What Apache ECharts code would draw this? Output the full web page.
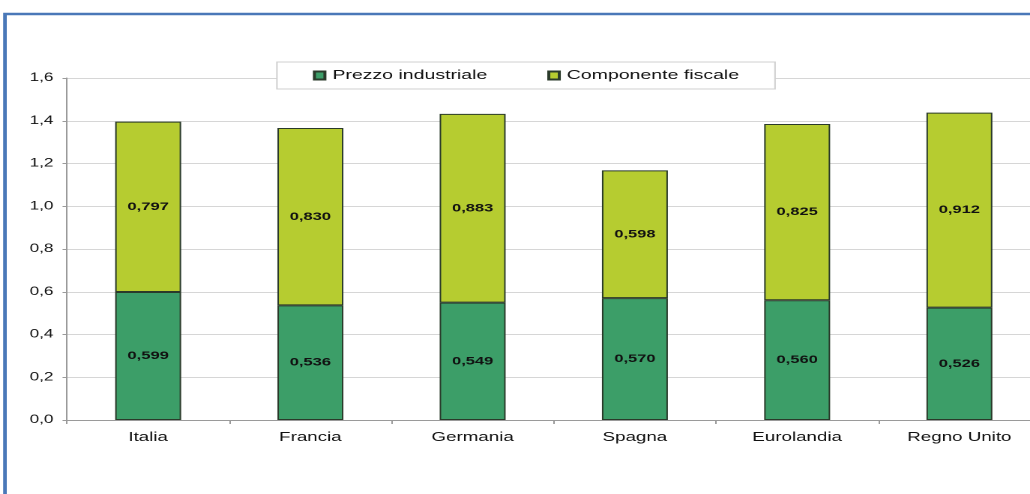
<!DOCTYPE html>
<html><head><meta charset="utf-8">
<script src="https://cdn.jsdelivr.net/npm/echarts@6/dist/echarts.min.js"></script>
<style>html,body{margin:0;padding:0;background:#fff;overflow:hidden}
#wrap{position:absolute;left:0;top:0;width:1030px;height:494px;overflow:hidden}
#c{width:720px;height:494px;transform:scaleX(1.4993);transform-origin:0 0}</style>
</head><body><div id="wrap"><div id="c"></div></div>
<script>
const categories = ['Italia','Francia','Germania','Spagna','Eurolandia','Regno Unito'];
const prezzoIndustriale = [0.599, 0.536, 0.549, 0.570, 0.560, 0.526];
const componenteFiscale = [0.797, 0.830, 0.883, 0.598, 0.825, 0.912];
const seriesNames = ['Prezzo industriale','Componente fiscale'];

const fmt = v => v.toFixed(3).replace('.', ',');
const chart = echarts.init(document.getElementById('c'), null, {renderer:'canvas', devicePixelRatio:2});
const font = 'Liberation Sans, Arial, sans-serif';
const lbl = {show:true, position:'inside', color:'#111', fontWeight:'bold', fontSize:11, fontFamily:font,
  formatter:p=>fmt(p.value)};
chart.setOption({
  animation:false,
  graphic:[{type:'rect', shape:{x:3.3, y:14, width:800, height:600}, style:{fill:'none', stroke:'#4a78b8', lineWidth:2.4}, z:-10}],
  legend:{top:62, left:184.7, itemGap:40, padding:[7,24,7,24], backgroundColor:'#fff', borderColor:'#d0d0d0', borderWidth:1,
    icon:'rect', itemWidth:7, itemHeight:8, textStyle:{fontSize:13, fontFamily:font, color:'#111'}, data:seriesNames, z:10},
  grid:{left:44.7, top:78, width:649.3, height:342, show:false},
  xAxis:{type:'category', data:categories,
    axisLine:{lineStyle:{color:'#9a9a9a'}}, axisTick:{show:true, length:4, lineStyle:{color:'#9a9a9a'}},
    splitLine:{show:false},
    axisLabel:{fontSize:12.5, fontFamily:font, color:'#111', margin:11}},
  yAxis:{type:'value', min:0, max:1.6, interval:0.2,
    axisLine:{show:true, lineStyle:{color:'#9a9a9a'}}, axisTick:{show:true, length:3, lineStyle:{color:'#9a9a9a'}},
    splitLine:{lineStyle:{color:'#d6d6d6'}},
    axisLabel:{fontSize:11.5, fontFamily:font, color:'#111', margin:9, formatter:v=>v.toFixed(1).replace('.',',')}},
  series:[
    {name:seriesNames[0], type:'bar', stack:'t', barWidth:44, data:prezzoIndustriale,
     itemStyle:{color:'#3c9e68', borderColor:'#2a3a2a', borderWidth:1}, label:lbl},
    {name:seriesNames[1], type:'bar', stack:'t', barWidth:44, data:componenteFiscale,
     itemStyle:{color:'#b6cc30', borderColor:'#2a3a2a', borderWidth:1}, label:lbl}
  ]
});
</script></body></html>
